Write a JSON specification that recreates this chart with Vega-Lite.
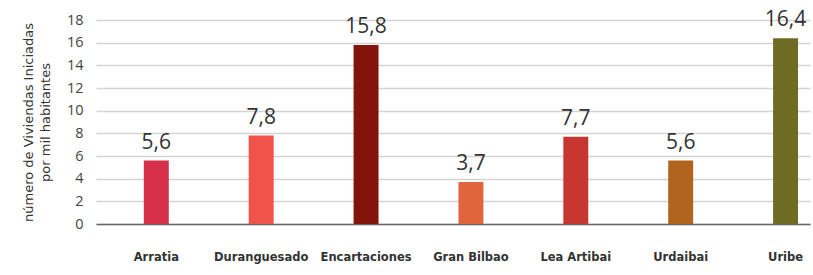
{
  "$schema": "https://vega.github.io/schema/vega-lite/v6.json",
  "autosize": "none",
  "width": 714,
  "height": 204,
  "padding": {"left": 96, "top": 20, "right": 3, "bottom": 51},
  "background": "white",
  "config": {
    "view": {"stroke": null},
    "locale": {"number": {"decimal": ",", "thousands": ".", "grouping": [3], "currency": ["", " €"]}},
    "font": "Open Sans"
  },
  "data": {
    "values": [
      {"comarca": "Arratia", "valor": 5.6, "color": "#d6304a"},
      {"comarca": "Duranguesado", "valor": 7.8, "color": "#ef5349"},
      {"comarca": "Encartaciones", "valor": 15.8, "color": "#84140b"},
      {"comarca": "Gran Bilbao", "valor": 3.7, "color": "#e0643c"},
      {"comarca": "Lea Artibai", "valor": 7.7, "color": "#c83630"},
      {"comarca": "Urdaibai", "valor": 5.6, "color": "#b0641e"},
      {"comarca": "Uribe", "valor": 16.4, "color": "#6e6c24"}
    ]
  },
  "encoding": {
    "x": {
      "field": "comarca", "type": "nominal", "sort": null,
      "scale": {"paddingInner": 0.762, "paddingOuter": 0.285, "align": 0.8},
      "axis": {
        "title": null, "labelAngle": 0, "ticks": false,
        "domainColor": "#666666", "domainWidth": 1.5,
        "labelFont": "DejaVu Sans", "labelFontWeight": "bold", "labelFontSize": 11.5,
        "labelColor": "#333333", "labelPadding": 33, "labelBaseline": "middle",
        "labelLimit": 200
      }
    },
    "y": {
      "field": "valor", "type": "quantitative",
      "scale": {"domain": [0, 18], "nice": false},
      "axis": {
        "values": [0, 2, 4, 6, 8, 10, 12, 14, 16, 18],
        "domain": false, "ticks": false,
        "gridColor": "#d4d4d4", "gridWidth": 1.5,
        "labelFont": "Open Sans", "labelFontSize": 14.5, "labelColor": "#444444",
        "labelPadding": 13,
        "title": ["número de Viviendas Iniciadas", "por mil habitantes"],
        "titleFont": "DejaVu Sans", "titleFontWeight": "normal", "titleFontSize": 13,
        "titleColor": "#333333", "titlePadding": 14, "titleLineHeight": 17
      }
    }
  },
  "layer": [
    {
      "mark": {"type": "bar"},
      "encoding": {"color": {"field": "color", "type": "nominal", "scale": null}}
    },
    {
      "mark": {"type": "text", "baseline": "bottom", "dy": -8, "fontSize": 21, "color": "#333333", "font": "Open Sans"},
      "encoding": {"text": {"field": "valor", "type": "quantitative", "format": ".1f"}}
    }
  ]
}
